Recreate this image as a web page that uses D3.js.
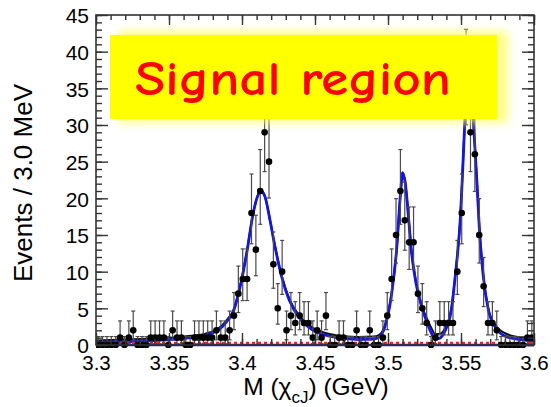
<!DOCTYPE html>
<html>
<head>
<meta charset="utf-8">
<script src="https://cdn.jsdelivr.net/npm/d3@7"></script>
<style>
  html, body { margin: 0; padding: 0; background: #fff; }
  svg { display: block; }
</style>
</head>
<body>
<svg id="chart" width="551" height="407"></svg>
<script>
// Histogram: 100 bins of 3 MeV between 3.3 and 3.6 GeV
const binLow = 3.3;
const binWidth = 0.003;
const counts = [
  0, 0, 0, 0, 0, 1, 0, 1, 2, 0,
  0, 0, 1, 1, 1, 1, 0, 2, 1, 1,
  0, 0, 1, 1, 1, 1, 1, 2, 1, 1,
  2, 4, 7, 9, 9, 18, 13, 21, 29, 25,
  11, 5, 10, 2, 4, 3, 4, 3, 3, 1,
  2, 1, 4, 0, 0, 1, 1, 0, 0, 2,
  0, 0, 2, 0, 0, 1, 4, 9, 15, 21,
  17, 14, 14, 7, 5, 3, 0, 1, 3, 3,
  3, 3, 10, 18, 36, 29, 26, 15, 8, 3,
  3, 2, 0, 0, 0, 0, 0, 0, 1, 1
];

// Fitted signal lineshape (mass in GeV, events per bin)
const signalCurve = [
  [3.300, 0.35], [3.320, 0.45], [3.340, 0.6], [3.355, 0.8], [3.365, 1.0],
  [3.375, 1.3], [3.3815, 1.8], [3.3865, 2.5], [3.3895, 3.2], [3.394, 4.5],
  [3.3986, 7.8], [3.4032, 12.5], [3.4077, 18.0], [3.4105, 20.2], [3.413, 21.0],
  [3.4158, 20.2], [3.4192, 17.0], [3.4226, 13.4], [3.4272, 9.3], [3.4324, 6.1],
  [3.4397, 3.6], [3.4488, 2.0], [3.460, 1.2], [3.470, 0.9], [3.480, 0.75],
  [3.490, 0.8], [3.494, 1.1], [3.4979, 2.5], [3.5025, 7.0], [3.5059, 13.0],
  [3.5087, 21.0], [3.510, 23.5], [3.5119, 22.0], [3.514, 17.5], [3.5162, 12.5],
  [3.5192, 8.4], [3.5231, 5.2], [3.5276, 2.6], [3.530, 1.5], [3.5322, 0.8],
  [3.535, 0.9], [3.5388, 1.8], [3.5434, 4.8], [3.546, 9.3], [3.5493, 16.5],
  [3.5527, 30.7], [3.5555, 42.0], [3.5584, 30.7], [3.5607, 23.0], [3.5625, 16.1],
  [3.5653, 9.3], [3.5687, 4.8], [3.5733, 2.5], [3.5813, 1.1], [3.5927, 0.7],
  [3.600, 0.5]
];

// Total fit (signal + background)
const totalCurve = [
  [3.300, 0.6], [3.320, 0.75], [3.340, 0.9], [3.355, 1.05], [3.365, 1.25],
  [3.375, 1.55], [3.3815, 2.0], [3.3865, 2.7], [3.3895, 3.4], [3.394, 4.7],
  [3.3986, 8.0], [3.4032, 12.6], [3.4077, 18.0], [3.4105, 20.2], [3.413, 21.0],
  [3.4158, 20.2], [3.4192, 17.0], [3.4226, 13.5], [3.4272, 9.4], [3.4324, 6.3],
  [3.4397, 3.9], [3.4488, 2.3], [3.460, 1.5], [3.470, 1.2], [3.480, 1.1],
  [3.490, 1.15], [3.494, 1.4], [3.4979, 2.7], [3.5025, 7.1], [3.5059, 13.0],
  [3.5087, 21.0], [3.510, 23.5], [3.5119, 22.0], [3.514, 17.6], [3.5162, 12.6],
  [3.5192, 8.6], [3.5231, 5.4], [3.5276, 3.2], [3.530, 2.2], [3.5322, 1.5],
  [3.535, 1.5], [3.5388, 2.2], [3.5434, 5.0], [3.546, 9.4], [3.5493, 16.6],
  [3.5527, 30.7], [3.5555, 42.0], [3.5584, 30.7], [3.5607, 23.1], [3.5625, 16.3],
  [3.5653, 9.5], [3.5687, 5.0], [3.5733, 2.8], [3.5813, 1.5], [3.5927, 1.0],
  [3.600, 0.9]
];

// Flat background level
const backgroundLevel = [0.3];

const xTickValues = [3.3, 3.35, 3.4, 3.45, 3.5, 3.55, 3.6];
const xTickLabels = ["3.3", "3.35", "3.4", "3.45", "3.5", "3.55", "3.6"];
const yTickValues = [0, 5, 10, 15, 20, 25, 30, 35, 40, 45];
const yTickLabels = ["0", "5", "10", "15", "20", "25", "30", "35", "40", "45"];

const xTitle = { main: "M (", greek: "\u03C7", sub: "cJ", tail: ") (GeV)" };
const yTitle = "Events / 3.0 MeV";
const bannerText = "Signal region";

// ---- layout
const plotLeft = 96, plotRight = 534, plotTop = 15, plotBottom = 345;
const svg = d3.select("#chart");

const x = d3.scaleLinear().domain([3.3, 3.6]).range([plotLeft, plotRight]);
const y = d3.scaleLinear().domain([0, 45]).range([plotBottom, plotTop]);

const defs = svg.append("defs");
defs.append("clipPath").attr("id", "plotClip")
  .append("rect").attr("x", plotLeft).attr("y", plotTop)
  .attr("width", plotRight - plotLeft).attr("height", plotBottom - plotTop + 3);
const glow = defs.append("filter").attr("id", "glow")
  .attr("x", "-20%").attr("y", "-40%").attr("width", "140%").attr("height", "180%");
glow.append("feGaussianBlur").attr("stdDeviation", 4);

const plot = svg.append("g").attr("clip-path", "url(#plotClip)");

// Points with Poisson (Garwood-like) error bars
const points = counts.map((n, i) => {
  const m = binLow + binWidth * (i + 0.5);
  let lo, hi;
  if (n === 0) { lo = 0; hi = 1.15; }
  else {
    lo = n * Math.pow(1 - 1 / (9 * n) - 1 / (3 * Math.sqrt(n)), 3);
    const n1 = n + 1;
    hi = n1 * Math.pow(1 - 1 / (9 * n1) + 1 / (3 * Math.sqrt(n1)), 3);
  }
  return { m, n, lo, hi };
});

// zero line and fitted curves
plot.append("line")
  .attr("x1", plotLeft).attr("x2", plotRight)
  .attr("y1", y(0)).attr("y2", y(0))
  .attr("stroke", "#1a1adb").attr("stroke-width", 2.5);

const line = d3.line()
  .x(d => x(d[0])).y(d => y(d[1]))
  .curve(d3.curveMonotoneX);

plot.append("path").datum(totalCurve)
  .attr("d", line).attr("fill", "none")
  .attr("stroke", "#111").attr("stroke-width", 2);

plot.append("path").datum(signalCurve)
  .attr("d", line).attr("fill", "none")
  .attr("stroke", "#1515e0").attr("stroke-width", 2.8);

plot.selectAll("line.bkg").data(backgroundLevel).join("line")
  .attr("class", "bkg")
  .attr("x1", plotLeft).attr("x2", plotRight)
  .attr("y1", d => y(d)).attr("y2", d => y(d))
  .attr("stroke", "#ff1a1a").attr("stroke-width", 2.2)
  .attr("stroke-dasharray", "3,3");

// error bars
const eb = plot.append("g").attr("stroke", "#4a4a4a").attr("stroke-width", 1.2);
eb.selectAll("line.v").data(points).join("line")
  .attr("class", "v")
  .attr("x1", d => x(d.m)).attr("x2", d => x(d.m))
  .attr("y1", d => y(d.lo)).attr("y2", d => y(d.hi));
eb.selectAll("line.t").data(points).join("line")
  .attr("class", "t")
  .attr("x1", d => x(d.m) - 2).attr("x2", d => x(d.m) + 2)
  .attr("y1", d => y(d.hi)).attr("y2", d => y(d.hi));
eb.selectAll("line.b").data(points.filter(d => d.n > 0)).join("line")
  .attr("class", "b")
  .attr("x1", d => x(d.m) - 2).attr("x2", d => x(d.m) + 2)
  .attr("y1", d => y(d.lo)).attr("y2", d => y(d.lo));

plot.append("g").selectAll("circle").data(points).join("circle")
  .attr("cx", d => x(d.m)).attr("cy", d => y(d.n))
  .attr("r", 3.3).attr("fill", "#000");

// ---- frame and ticks
const axisColor = "#333";
function styleAxis(g) {
  g.select(".domain").remove();
  g.selectAll(".tick line").attr("stroke", axisColor).attr("stroke-width", 1.4);
  g.selectAll("text").attr("fill", "#000")
    .style("font-family", "'Liberation Sans', Arial, Helvetica, sans-serif")
    .style("font-size", "21px");
}
const xMinor = d3.range(0, 31).map(i => 3.3 + i * 0.01);
const yMinor = d3.range(0, 46);

svg.append("g").attr("transform", `translate(0,${plotBottom})`)
  .call(d3.axisBottom(x).tickValues(xMinor).tickSize(-6).tickFormat(""))
  .call(styleAxis);
const xAx = svg.append("g").attr("transform", `translate(0,${plotBottom})`)
  .call(d3.axisBottom(x).tickValues(xTickValues).tickSize(-12).tickPadding(10)
    .tickFormat((d, i) => xTickLabels[i]))
  .call(styleAxis);
xAx.selectAll("text").style("font-size", "20.5px");
svg.append("g").attr("transform", `translate(0,${plotTop})`)
  .call(d3.axisTop(x).tickValues(xMinor).tickSize(-5).tickFormat(""))
  .call(styleAxis);
svg.append("g").attr("transform", `translate(0,${plotTop})`)
  .call(d3.axisTop(x).tickValues(xTickValues).tickSize(-10).tickFormat(""))
  .call(styleAxis);

svg.append("g").attr("transform", `translate(${plotLeft},0)`)
  .call(d3.axisLeft(y).tickValues(yMinor).tickSize(-6).tickFormat(""))
  .call(styleAxis);
const yAx = svg.append("g").attr("transform", `translate(${plotLeft},0)`)
  .call(d3.axisLeft(y).tickValues(yTickValues).tickSize(-12).tickPadding(7)
    .tickFormat((d, i) => yTickLabels[i]))
  .call(styleAxis);
yAx.selectAll("text").attr("dy", "0.38em");
svg.append("g").attr("transform", `translate(${plotRight},0)`)
  .call(d3.axisRight(y).tickValues(yMinor).tickSize(-6).tickFormat(""))
  .call(styleAxis);
svg.append("g").attr("transform", `translate(${plotRight},0)`)
  .call(d3.axisRight(y).tickValues(yTickValues).tickSize(-12).tickFormat(""))
  .call(styleAxis);

svg.append("rect")
  .attr("x", plotLeft).attr("y", plotTop)
  .attr("width", plotRight - plotLeft).attr("height", plotBottom - plotTop)
  .attr("fill", "none").attr("stroke", axisColor).attr("stroke-width", 1.6);

// ---- axis titles
svg.append("text")
  .attr("transform", `translate(32,183) rotate(-90)`)
  .attr("text-anchor", "middle")
  .style("font-family", "'Liberation Sans', Arial, Helvetica, sans-serif")
  .style("font-size", "26px")
  .text(yTitle);

const xt = svg.append("text")
  .attr("x", 316).attr("y", 395)
  .attr("text-anchor", "middle")
  .style("font-family", "'Liberation Sans', Arial, Helvetica, sans-serif")
  .style("font-size", "24.5px");
xt.append("tspan").text(xTitle.main);
xt.append("tspan").text(xTitle.greek);
xt.append("tspan").attr("dy", 8).style("font-size", "17px").text(xTitle.sub);
xt.append("tspan").attr("dy", -8).text(xTitle.tail);

// ---- banner
const banner = svg.append("g");
banner.append("rect")
  .attr("x", 118).attr("y", 31).attr("width", 390).attr("height", 92)
  .attr("fill", "#ffff60").attr("opacity", 0.75)
  .attr("filter", "url(#glow)");
banner.append("rect")
  .attr("x", 110).attr("y", 35).attr("width", 387).attr("height", 84)
  .attr("fill", "#ffff00");
banner.append("text")
  .attr("x", 135).attr("y", 95)
  .attr("textLength", 316).attr("lengthAdjust", "spacingAndGlyphs")
  .attr("fill", "#ff0000")
  .style("font-family", "'Comic Sans MS', 'Comic Neue', Lato, sans-serif")
  .style("font-weight", "700")
  .style("font-size", "49px")
  .text(bannerText);
</script>
</body>
</html>
